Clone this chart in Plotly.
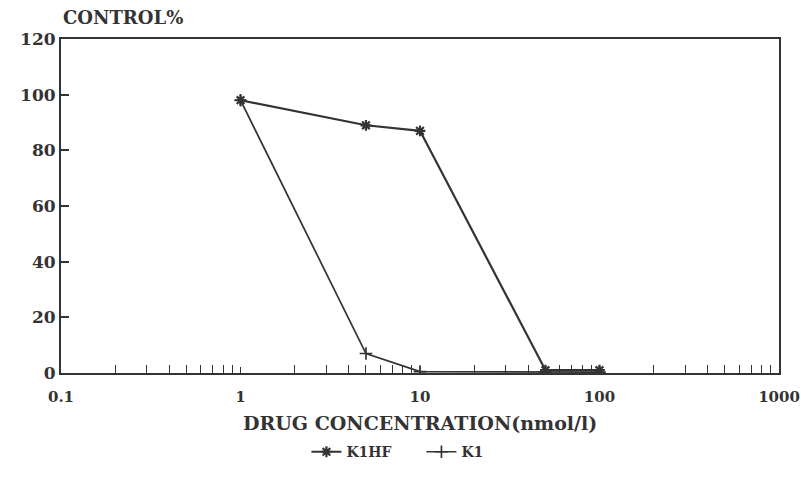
import plotly.graph_objects as go

conc = [1, 5, 10, 50, 100]
k1hf = [98, 89, 87, 1, 1]
k1 = [98, 7, 0.5, 0.3, 0.3]

x_ticks = [0.1, 1, 10, 100, 1000]
x_labels = ["0.1", "1", "10", "100", "1000"]
x_minor = [m * d for d in [0.1, 1, 10, 100] for m in range(2, 10)]
y_ticks = [0, 20, 40, 60, 80, 100, 120]

ink = "#333333"
fam = "DejaVu Serif"

fig = go.Figure()
fig.add_trace(go.Scatter(x=conc, y=k1hf, name="K1HF", mode="lines+markers",
                         line=dict(color=ink, width=2.2),
                         marker=dict(symbol="asterisk-open", size=9,
                                     line=dict(color=ink, width=2.2), color=ink)))
fig.add_trace(go.Scatter(x=conc, y=k1, name="K1", mode="lines+markers",
                         line=dict(color=ink, width=1.7),
                         marker=dict(symbol="cross-thin-open", size=9,
                                     line=dict(color=ink, width=1.7), color=ink)))

yfont = dict(family=fam, size=17, color=ink, weight="bold")
xfont = dict(family=fam, size=15, color=ink, weight="bold")

fig.update_layout(
    width=801, height=491,
    margin=dict(l=61, r=22, t=39, b=118),
    paper_bgcolor="white", plot_bgcolor="white",
    showlegend=True,
    legend=dict(orientation="h", x=0.502, xanchor="center", y=-0.237,
                yanchor="middle", entrywidth=70,
                font=dict(family=fam, size=14, color=ink, weight="bold")),
    xaxis=dict(type="log", range=[-1, 3], tickvals=x_ticks, ticktext=x_labels,
               ticks="inside", ticklen=6, tickcolor=ink, tickwidth=1,
               showline=True, linecolor=ink, linewidth=2, mirror=True,
               showgrid=False, zeroline=False, ticklabelstandoff=9,
               automargin=False, ticklabeloverflow="allow",
               minor=dict(tickvals=x_minor, ticks="inside", ticklen=8,
                          tickcolor=ink, tickwidth=1, showgrid=False),
               tickfont=xfont),
    yaxis=dict(range=[0, 120], tickvals=y_ticks, ticks="inside", ticklen=8,
               tickcolor=ink, tickwidth=1.5, showline=True, linecolor=ink,
               linewidth=2, mirror=True, showgrid=False, zeroline=False,
               automargin=False, tickfont=yfont),
    annotations=[
        dict(text="CONTROL%", x=0, y=1.063, xref="paper", yref="paper",
             xanchor="left", yanchor="middle", showarrow=False,
             font=dict(family=fam, size=18, color=ink, weight="bold")),
        dict(text="DRUG CONCENTRATION(nmol/l)", x=0.5, y=-0.149, xref="paper",
             yref="paper", xanchor="center", yanchor="middle", showarrow=False,
             font=dict(family=fam, size=19, color=ink, weight="bold")),
    ],
)

fig.write_html("out.html")
